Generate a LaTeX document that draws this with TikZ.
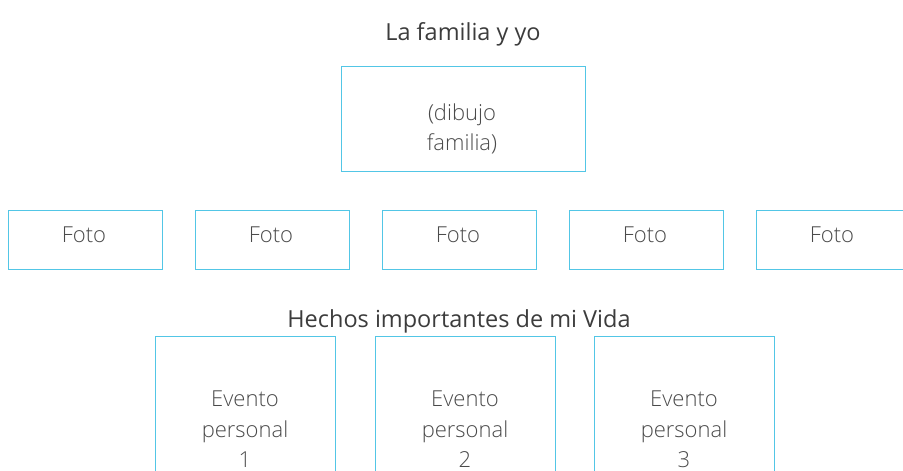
\documentclass[tikz,border=0pt]{standalone}
\usepackage{fontspec}
\setmainfont{Open Sans}
\IfFontExistsTF{Open Sans Light}{\newfontfamily\lightfont{Open Sans Light}}{\newfontfamily\lightfont{Open Sans}}
\definecolor{boxline}{HTML}{52C6E6}
\definecolor{txt}{HTML}{3C3C3C}
\definecolor{txtlight}{HTML}{4A4A4A}
\begin{document}
\begin{tikzpicture}[x=1pt,y=-1pt,
  frame/.style={draw=boxline,line width=0.9pt},
  titletext/.style={anchor=base,text=txt,font=\fontsize{23.5}{28}\selectfont,inner sep=0pt},
  boxtext/.style={anchor=base,text=txtlight,font=\lightfont\fontsize{22}{26}\selectfont,inner sep=0pt}]
\useasboundingbox (0,0) rectangle (903,471);
\node[titletext] (t1) at (463,40) {La familia y yo};
\draw[frame] (341,66) rectangle (585,171);
\node[boxtext] (d1) at (462,120) {(dibujo};
\node[boxtext] (d2) at (462,150) {familia)};
\foreach \i in {0,...,4} {
  \draw[frame] ({8+187*\i},210) rectangle ({162+187*\i},269);
  \node[boxtext] (f\i) at ({84+187*\i},242) {Foto};
}
\node[titletext] (t2) at (459,327) {Hechos importantes de mi Vida};
\foreach \x/\n in {155/1,375/2,594/3} {
  \draw[frame] (\x,480) -- (\x,336) -- (\x+180,336) -- (\x+180,480);
  \node[boxtext] (ea\n) at (\x+90,406) {Evento};
  \node[boxtext] (eb\n) at (\x+90,437) {personal};
  \node[boxtext] (ec\n) at (\x+90,467) {\n};
}
\end{tikzpicture}
\end{document}
